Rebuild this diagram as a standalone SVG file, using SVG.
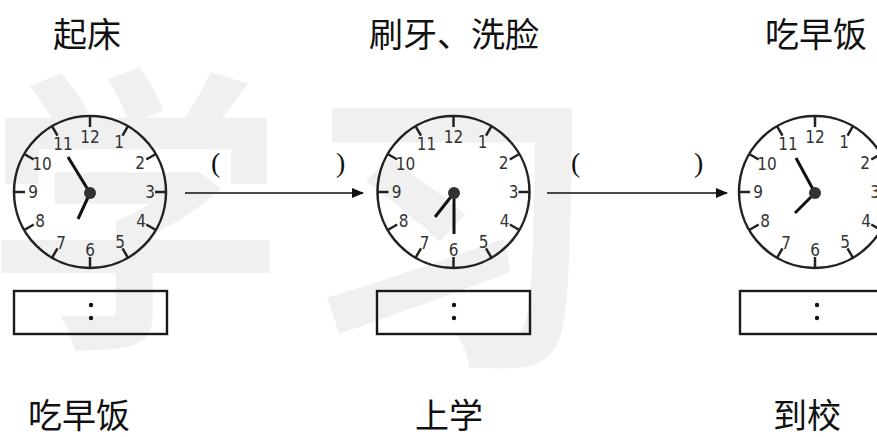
<svg xmlns="http://www.w3.org/2000/svg" xmlns:xlink="http://www.w3.org/1999/xlink" width="877" height="437" viewBox="0 0 877 437">
<style>
.lbl{font-family:"Noto Sans CJK SC","Noto Sans",sans-serif;font-size:34px;fill:#111}
.wm{font-family:"Noto Sans CJK SC",sans-serif;font-size:300px;font-weight:700;fill:#f0f0f0}
.num{font-family:"DejaVu Sans Condensed","DejaVu Sans",sans-serif;font-size:17px;fill:#333;text-anchor:middle}
.face{fill:none;stroke:#222;stroke-width:2.5}
.tick{stroke:#222;stroke-width:2.5}
.hand{stroke:#111;stroke-width:3;stroke-linecap:butt}
.box{fill:none;stroke:#1a1a1a;stroke-width:2.4}
.par{font-family:"Liberation Serif",serif;font-size:28px;fill:#111}
.conn{stroke:#111;stroke-width:1.5;fill:none}
</style>
<defs>
<marker id="ah" markerWidth="12" markerHeight="10" refX="11" refY="5" orient="auto" markerUnits="userSpaceOnUse">
<path d="M0,0 L12,5 L0,10 Z" fill="#111"/>
</marker>
<g id="face">
<circle r="76" class="face"/>
<g class="tick">
<line x1="0" y1="-65" x2="0" y2="-76" transform="rotate(0)"/>
<line x1="0" y1="-65" x2="0" y2="-76" transform="rotate(30)"/>
<line x1="0" y1="-65" x2="0" y2="-76" transform="rotate(60)"/>
<line x1="0" y1="-65" x2="0" y2="-76" transform="rotate(90)"/>
<line x1="0" y1="-65" x2="0" y2="-76" transform="rotate(120)"/>
<line x1="0" y1="-65" x2="0" y2="-76" transform="rotate(150)"/>
<line x1="0" y1="-65" x2="0" y2="-76" transform="rotate(180)"/>
<line x1="0" y1="-65" x2="0" y2="-76" transform="rotate(210)"/>
<line x1="0" y1="-65" x2="0" y2="-76" transform="rotate(240)"/>
<line x1="0" y1="-65" x2="0" y2="-76" transform="rotate(270)"/>
<line x1="0" y1="-65" x2="0" y2="-76" transform="rotate(300)"/>
<line x1="0" y1="-65" x2="0" y2="-76" transform="rotate(330)"/>
</g>
<text class="num" x="29" y="-44">1</text>
<text class="num" x="50" y="-23">2</text>
<text class="num" x="60" y="6">3</text>
<text class="num" x="51" y="35">4</text>
<text class="num" x="30" y="56">5</text>
<text class="num" x="0" y="64">6</text>
<text class="num" x="-29" y="57">7</text>
<text class="num" x="-50" y="35">8</text>
<text class="num" x="-57" y="6">9</text>
<text class="num" x="-48" y="-22">10</text>
<text class="num" x="-27" y="-42">11</text>
<text class="num" x="0" y="-49">12</text>
</g>
</defs>

<g id="watermark">
<text class="wm" x="-15" y="325">学</text>
<text class="wm" x="300" y="345">习</text>
</g>

<g id="connectors">
<line class="conn" x1="185" y1="193" x2="363" y2="193" marker-end="url(#ah)"/>
<line class="conn" x1="547" y1="193" x2="727" y2="193" marker-end="url(#ah)"/>
<text class="par" x="211" y="172">(</text>
<text class="par" x="336" y="172">)</text>
<text class="par" x="571" y="172">(</text>
<text class="par" x="694" y="172">)</text>
</g>

<g id="node1">
<text class="lbl" x="53" y="47">起床</text>
<use xlink:href="#face" x="90" y="192"/>
<line class="hand" x1="90" y1="193" x2="68" y2="157"/>
<line class="hand" x1="90" y1="193" x2="78" y2="219"/>
<circle cx="90" cy="193" r="6" fill="#333"/>
<rect class="box" x="14" y="291" width="153" height="43"/>
<circle cx="91" cy="305" r="2.2" fill="#111"/>
<circle cx="91" cy="318" r="2.2" fill="#111"/>
<text class="lbl" x="28" y="428">吃早饭</text>
</g>

<g id="node2">
<text class="lbl" x="369" y="47">刷牙、洗脸</text>
<use xlink:href="#face" x="453.5" y="192"/>
<line class="hand" x1="454" y1="193" x2="454" y2="234"/>
<line class="hand" x1="454" y1="193" x2="435" y2="217"/>
<circle cx="454" cy="193" r="6" fill="#333"/>
<rect class="box" x="377" y="291" width="153" height="43"/>
<circle cx="454" cy="305" r="2.2" fill="#111"/>
<circle cx="454" cy="318" r="2.2" fill="#111"/>
<text class="lbl" x="415" y="428">上学</text>
</g>

<g id="node3">
<text class="lbl" x="765" y="47">吃早饭</text>
<use xlink:href="#face" x="815" y="192"/>
<line class="hand" x1="815" y1="193" x2="796" y2="158"/>
<line class="hand" x1="815" y1="193" x2="795" y2="213"/>
<circle cx="815" cy="193" r="6" fill="#333"/>
<rect class="box" x="740" y="291" width="153" height="43"/>
<circle cx="817" cy="305" r="2.2" fill="#111"/>
<circle cx="817" cy="318" r="2.2" fill="#111"/>
<text class="lbl" x="773" y="428">到校</text>
</g>
</svg>
